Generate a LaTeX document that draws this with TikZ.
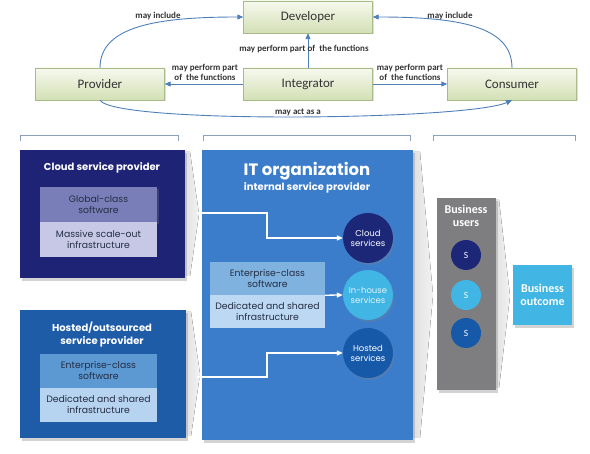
\documentclass[tikz,border=0pt]{standalone}
\usepackage{fontspec}
\setmainfont{Carlito}
\newfontfamily\fut{Poppins}
\usetikzlibrary{arrows.meta,shadows,calc}
\definecolor{arrowblue}{HTML}{4F7FB8}
\definecolor{boxborder}{HTML}{A9BA8A}
\definecolor{gtop}{HTML}{F6F9EE}
\definecolor{gbot}{HTML}{D3E0B5}
\definecolor{navy}{HTML}{1E2375}
\definecolor{navyin1}{HTML}{7A7EB8}
\definecolor{navyin2}{HTML}{C6C8E6}
\definecolor{hostblue}{HTML}{1E5CA8}
\definecolor{hostin1}{HTML}{5C98D2}
\definecolor{hostin2}{HTML}{B6D3EF}
\definecolor{itblue}{HTML}{3C7DCB}
\definecolor{itin1}{HTML}{80B2E0}
\definecolor{itin2}{HTML}{BCD8F2}
\definecolor{cyanc}{HTML}{41B5E3}
\definecolor{darkc}{HTML}{1C2777}
\definecolor{midc}{HTML}{1659A9}
\definecolor{greyb}{HTML}{7E7E80}
\definecolor{intext}{HTML}{252E44}
\definecolor{brk}{HTML}{8CA2BC}
\definecolor{chev}{HTML}{DCDCDE}
\definecolor{chevl}{HTML}{F2F2F3}
\tikzset{
  topbox/.style={draw=boxborder, top color=gtop, bottom color=gbot, minimum width=129pt, minimum height=32pt,
    inner sep=0pt, font=\fontsize{13}{15}\selectfont, text=black!80,
    drop shadow={opacity=0.25, shadow xshift=1pt, shadow yshift=-1.5pt}},
  flow/.style={draw=arrowblue, line width=0.9pt, -{Triangle[length=6pt,width=5pt]}},
  lbl/.style={font=\fontsize{9}{10}\selectfont\bfseries, text=black!80, align=center, inner sep=0pt},
  bigbox/.style={inner sep=0pt, drop shadow={opacity=0.35, shadow xshift=2pt, shadow yshift=-3pt}},
  inbox/.style={inner sep=0pt, minimum width=117pt, align=center, text=intext, font=\fut\fontsize{9.3}{11}\selectfont},
  wtitle/.style={text=white, align=center, inner sep=0pt, font=\fut\bfseries\fontsize{10}{13}\selectfont},
  circ/.style={circle, inner sep=0pt, minimum size=50pt, text=white, align=center, font=\fut\fontsize{8.5}{10}\selectfont,
    drop shadow={opacity=0.3, shadow xshift=1.5pt, shadow yshift=-2pt}},
  scirc/.style={circle, inner sep=0pt, minimum size=30pt, text=white, font=\fontsize{9.5}{10}\selectfont,
    drop shadow={opacity=0.3, shadow xshift=1.5pt, shadow yshift=-2pt}},
  warrow/.style={draw=white, line width=1.3pt, -{Triangle[length=6pt,width=5pt]}},
  brack/.style={draw=brk, line width=0.8pt},
  chevron/.style={left color=chev, right color=chevl, draw=none},
}
\begin{document}
\begin{tikzpicture}[x=1pt,y=-1pt]
\useasboundingbox (0,0) rectangle (590,454);
% top diagram
\node[topbox] (dev) at (308,17) {Developer};
\node[topbox] (prov) at (100,84) {Provider};
\node[topbox] (int) at (308,84) {Integrator};
\node[topbox] (cons) at (512,84) {Consumer};
\draw[flow] (prov.north) .. controls +(0,-42) and +(-85,0) .. (dev.west);
\draw[flow] (cons.north) .. controls +(0,-42) and +(85,0) .. (dev.east);
\draw[flow] (prov.south) .. controls +(15,24) and +(-45,20) .. (cons.south);
\draw[flow] (int.north) -- (dev.south);
\draw[flow] (int.west) -- (prov.east);
\draw[flow] (int.east) -- (cons.west);
\node[lbl] (l1) at (158,16) {may include};
\node[lbl] (l2) at (450,16) {may include};
\node[lbl] (l3) at (304,49) {may perform part of\ \ the functions};
\node[lbl] (l4) at (205,72) {may perform part\\of\ \ the functions};
\node[lbl] (l5) at (410,72) {may perform part\\of\ \ the functions};
\node[lbl] (l6) at (298,112) {may act as a};
% brackets
\draw[brack] (20,141) -- (20,135) -- (178,135) -- (178,141);
\draw[brack] (203,141) -- (203,135) -- (410,135) -- (410,141);
\draw[brack] (433,141) -- (433,135) -- (575,135) -- (575,141);
% chevrons
\fill[chevron] (180,152) -- (190,152) -- (199,214) -- (190,276) -- (180,276) -- cycle;
\fill[chevron] (180,312) -- (191,312) -- (200,374) -- (191,436) -- (180,436) -- cycle;
\fill[chevron] (408,152) -- (420,152) -- (433,295) -- (420,438) -- (408,438) -- cycle;
\fill[chevron] (490,200) -- (499,200) -- (510,296) -- (499,388) -- (490,388) -- cycle;
% cloud service provider
\node[bigbox, fill=navy, minimum width=165pt, minimum height=128pt] (cloudbox) at (102.5,214) {};
\node[wtitle] (cloudt) at (102,168) {Cloud service provider};
\node[inbox, fill=navyin1, minimum height=35pt, drop shadow={opacity=0.3, shadow xshift=1.5pt, shadow yshift=-2pt}] (cin1) at (98.5,204.5) {Global-class\\software};
\node[inbox, fill=navyin2, minimum height=35pt] (cin2) at (98.5,239.5) {Massive scale-out\\infrastructure};
% hosted
\node[bigbox, fill=hostblue, minimum width=166pt, minimum height=128pt] (hostbox) at (103,374) {};
\node[wtitle] (hostt) at (102,335) {Hosted/outsourced\\service provider};
\node[inbox, fill=hostin1, minimum height=34pt] (hin1) at (98.5,371) {Enterprise-class\\software};
\node[inbox, fill=hostin2, minimum height=34pt] (hin2) at (98.5,405) {Dedicated and shared\\infrastructure};
% IT organization
\node[bigbox, fill=itblue, minimum width=211pt, minimum height=290pt] (itbox) at (307.5,295) {};
\node[text=white, inner sep=0pt, font=\fut\bfseries\fontsize{16.5}{18}\selectfont] (itt1) at (307,171) {IT organization};
\node[text=white, inner sep=0pt, font=\fut\bfseries\fontsize{10}{11}\selectfont] (itt2) at (307,188) {internal service provider};
\node[inbox, fill=itin1, minimum width=115pt, minimum height=33pt] (iin1) at (267.5,278.5) {Enterprise-class\\software};
\node[inbox, fill=itin2, minimum width=115pt, minimum height=33pt] (iin2) at (267.5,311.5) {Dedicated and shared\\infrastructure};
\node[circ, fill=darkc] (cloudc) at (368,238) {Cloud\\services};
\node[circ, fill=cyanc, text=white!85!cyanc] (inhc) at (368,295) {In-house\\services};
\node[circ, fill=midc] (hostc) at (368,353) {Hosted\\services};
\coordinate (w1) at (197,213);
\coordinate (w3) at (197,377);
\draw[warrow] (w1) -- (267,213) |- (cloudc.west);
\draw[warrow] (iin1.south east) -- (inhc.west);
\draw[warrow] (w3) -- (267,377) |- (hostc.west);
% business users
\node[bigbox, fill=greyb, minimum width=59pt, minimum height=192pt] (users) at (466.5,294) {};
\node[text=white, align=center, inner sep=0pt, font=\bfseries\fontsize{12}{13}\selectfont] (ust) at (466,216) {Business\\users};
\node[scirc, fill=darkc] (s1) at (466,255) {S};
\node[scirc, fill=cyanc] (s2) at (466,295) {S};
\node[scirc, fill=midc] (s3) at (466,333) {S};
% business outcome
\node[bigbox, fill=cyanc, minimum width=59pt, minimum height=60pt, text=white, align=center, font=\bfseries\fontsize{12}{13}\selectfont] (outc) at (542.5,295) {Business\\outcome};
\end{tikzpicture}
\end{document}
